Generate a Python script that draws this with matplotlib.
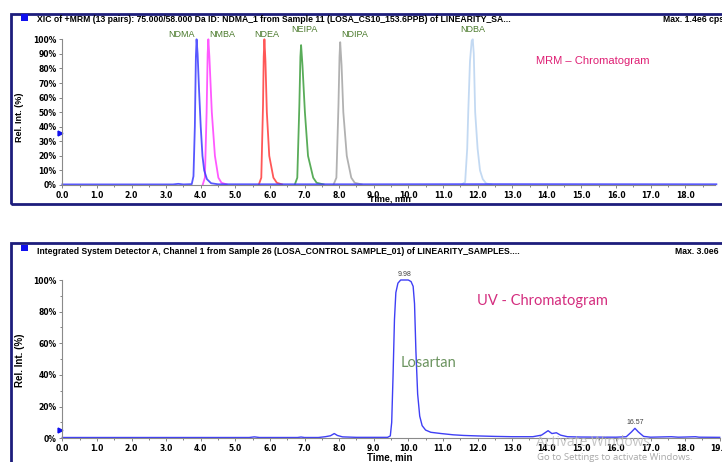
import numpy as np
import matplotlib
matplotlib.use('Agg')
from matplotlib import pyplot as plt
from matplotlib.patches import Rectangle
from matplotlib.ticker import MultipleLocator, FuncFormatter

W, H = 722, 462

# ---- MRM traces (time, rel. intensity %) ----
ndma_t = [0.0, 3.2, 3.35, 3.5, 3.74, 3.79, 3.83, 3.86, 3.88, 3.91, 3.95, 4.00, 4.05, 4.10, 4.18, 4.30, 4.50, 9.0, 12.5, 18.9]
ndma_y = [0.4, 0.4, 0.8, 0.4, 0.6, 6, 40, 88, 100, 90, 66, 40, 20, 10, 4, 1.2, 0.5, 0.5, 0.6, 0.5]
nmba_t = [4.06, 4.12, 4.17, 4.20, 4.22, 4.25, 4.32, 4.41, 4.51, 4.60, 4.75]
nmba_y = [0.4, 5, 50, 90, 100, 88, 50, 20, 5, 1.5, 0.4]
ndea_t = [5.68, 5.75, 5.80, 5.82, 5.84, 5.87, 5.91, 5.98, 6.10, 6.20, 6.35]
ndea_y = [0.4, 5, 55, 88, 100, 85, 50, 20, 5, 1.5, 0.4]
neipa_t = [6.72, 6.79, 6.85, 6.88, 6.90, 6.94, 7.01, 7.10, 7.25, 7.35, 7.55]
neipa_y = [0.4, 5, 55, 88, 96, 82, 50, 20, 5, 1.5, 0.4]
ndipa_t = [7.84, 7.92, 7.98, 8.01, 8.03, 8.07, 8.12, 8.22, 8.35, 8.45, 8.65]
ndipa_y = [0.4, 5, 55, 88, 98, 82, 50, 20, 5, 1.5, 0.4]
ndba_t = [11.55, 11.64, 11.70, 11.73, 11.78, 11.83, 11.86, 11.89, 11.93, 12.00, 12.07, 12.15, 12.25, 12.40]
ndba_y = [0.4, 2, 25, 50, 85, 99, 100, 90, 50, 25, 10, 4, 1, 0.4]

mrm_names = ['NDMA', 'NMBA', 'NDEA', 'NEIPA', 'NDIPA', 'NDBA']
mrm_colors = ['#3a3aff', '#ff3cff', '#ff3a3a', '#3c9e3c', '#a4a4a4', '#b9d3f0']
mrm_label_t = [3.43, 4.62, 5.92, 7.01, 8.45, 11.87]
mrm_label_y = [103.6, 103.6, 103.6, 106.4, 103.6, 106.4]

# ---- UV trace ----
uv_t = [0.0, 5.40, 5.55, 5.70, 6.80, 6.90, 7.00, 7.40, 7.60, 7.75, 7.86, 7.95, 8.10, 8.50,
        9.00, 9.40, 9.48, 9.52, 9.56, 9.60, 9.64, 9.70, 9.78, 10.00, 10.08, 10.14, 10.18,
        10.22, 10.27, 10.33, 10.40, 10.50, 10.65, 10.95, 11.30, 11.60, 12.00, 12.50, 13.00,
        13.60, 13.85, 14.04, 14.15, 14.28, 14.40, 14.60, 15.00, 16.00, 16.30, 16.45, 16.55,
        16.65, 16.80, 17.00, 17.40, 17.60, 17.80, 18.00, 18.30, 18.40, 19.00]
uv_y = [0.5, 0.5, 0.9, 0.5, 0.5, 0.8, 0.5, 0.5, 1.0, 1.6, 3.0, 1.8, 0.9, 0.6,
        0.6, 0.6, 1.5, 10, 40, 75, 92, 98, 100, 100, 99, 96, 85,
        55, 28, 14, 8, 5.2, 3.8, 3.0, 2.2, 1.8, 1.5, 1.2, 1.0,
        1.0, 2.0, 4.8, 3.0, 3.5, 2.0, 1.0, 0.8, 0.7, 1.0, 4.0, 6.3,
        4.0, 1.2, 0.7, 0.9, 1.0, 0.7, 0.8, 1.0, 0.7, 0.6]
uv_peak_t = [9.88, 16.55]
uv_peak_y = [100, 6.3]
uv_peak_lbl = ['9.98', '16.57']

top_header = 'XIC of +MRM (13 pairs): 75.000/58.000 Da ID: NDMA_1 from Sample 11 (LOSA_CS10_153.6PPB) of LINEARITY_SA...'
bot_header = 'Integrated System Detector A, Channel 1 from Sample 26 (LOSA_CONTROL SAMPLE_01) of LINEARITY_SAMPLES....'

plt.rcParams['font.family'] = ['DejaVu Sans']
plt.rcParams['font.weight'] = 'bold'

fig = plt.figure(figsize=(W / 100, H / 100), dpi=100)
fig.patch.set_facecolor('white')


def box(x0, y0, x1, y1):
    # pixel rectangle (top-left origin) -> figure fraction
    return [x0 / W, 1 - y1 / H, (x1 - x0) / W, (y1 - y0) / H]


def ftext(x, y, s, **kw):
    fig.text(x / W, 1 - y / H, s, **kw)


narrow = ['Liberation Sans Narrow', 'Liberation Sans', 'DejaVu Sans']
navy = '#1d1d7c'

# panel frames
for y0, y1 in [(13.5, 203.5), (243.5, 480)]:
    fig.patches.append(Rectangle((11 / W, 1 - y1 / H), (740 - 11) / W, (y1 - y0) / H,
                                 transform=fig.transFigure, fill=False, ec=navy, lw=2))
    fig.patches.append(Rectangle((21 / W, 1 - (y0 + 7) / H), 7 / W, 6 / H,
                                 transform=fig.transFigure, fc='#1010ee', ec='none'))

ftext(37, 19, top_header, family=narrow, fontsize=6.25, va='center', ha='left')
ftext(663, 19, 'Max. 1.4e6 cps', family=narrow, fontsize=6.25, va='center', ha='left')
ftext(37, 251, bot_header, family=narrow, fontsize=6.25, va='center', ha='left')
ftext(675, 251, 'Max. 3.0e6', family=narrow, fontsize=6.25, va='center', ha='left')


def style_axes(ax, ystep, yminor):
    for s in ['top', 'right']:
        ax.spines[s].set_visible(False)
    for s in ['left', 'bottom']:
        ax.spines[s].set_color('#8a8a8a')
        ax.spines[s].set_linewidth(0.8)
    ax.xaxis.set_major_locator(MultipleLocator(1.0))
    ax.xaxis.set_minor_locator(MultipleLocator(0.5))
    ax.xaxis.set_major_formatter(FuncFormatter(lambda v, p: f'{v:.1f}'))
    ax.yaxis.set_major_locator(MultipleLocator(ystep))
    ax.yaxis.set_minor_locator(MultipleLocator(yminor))
    ax.yaxis.set_major_formatter(FuncFormatter(lambda v, p: f'{v:.0f}%'))
    ax.tick_params(which='both', labelsize=5.5, color='#707070', width=0.6, pad=1.5)
    ax.tick_params(which='major', length=2.5)
    ax.tick_params(which='minor', length=1.5)
    ax.set_ylim(0, 100)


# ---- top (MRM) ----
ax1 = fig.add_axes(box(62.3, 39.3, 715, 185))
style_axes(ax1, 10, 10)
ax1.set_xlim(0, 18.86)
traces = [(ndma_t, ndma_y), (nmba_t, nmba_y), (ndea_t, ndea_y),
          (neipa_t, neipa_y), (ndipa_t, ndipa_y), (ndba_t, ndba_y)]
order = [5, 4, 3, 2, 1, 0]
for i in order:
    t, y = traces[i]
    ax1.plot(t, y, color=mrm_colors[i], lw=1.3, alpha=0.85, clip_on=False)
for name, lt, ly in zip(mrm_names, mrm_label_t, mrm_label_y):
    ax1.text(lt, ly, name, color='#4b7a2c', fontsize=6.5, fontweight='normal',
             family=['Liberation Sans'], ha='center', va='center', clip_on=False)
ax1.plot([-0.08], [36], marker='>', color='#1010ee', ms=3.5, clip_on=False)
ftext(593, 61, 'MRM \u2013 Chromatogram', color='#df1f74', fontsize=8, fontweight='normal',
      family=['Liberation Sans'], ha='center', va='center')
ftext(20, 117, 'Rel. Int. (%)', family=narrow, fontsize=6.5, rotation=90, ha='center', va='center')
ftext(390, 199, 'Time, min', family=['Liberation Sans'], fontsize=6.5, ha='center', va='center')

# ---- bottom (UV) ----
ax2 = fig.add_axes(box(62.3, 280, 719.7, 438.3))
style_axes(ax2, 20, 10)
ax2.set_xlim(0, 19.0)
ax2.plot(uv_t, uv_y, color='#3f3ff5', lw=1.0, clip_on=False)
for pt, py, pl in zip(uv_peak_t, uv_peak_y, uv_peak_lbl):
    ax2.annotate(pl, (pt, py), xytext=(0, 4), textcoords='offset points', ha='center',
                 va='center', fontsize=5, fontweight='normal', color='#404040',
                 family=['Liberation Sans'])
ax2.plot([-0.08], [5], marker='>', color='#1010ee', ms=3.5, clip_on=False)
ftext(542, 301, 'UV - Chromatogram', color='#d42d7f', fontsize=10.5, fontweight='normal',
      family=['Lato', 'DejaVu Sans'], ha='center', va='center')
ftext(429, 363, 'Losartan', color='#6c9460', fontsize=10.5, fontweight='normal',
      family=['Lato', 'DejaVu Sans'], ha='center', va='center')
ftext(20, 360, 'Rel. Int. (%)', family=['Liberation Sans'], fontsize=7, rotation=90,
      ha='center', va='center')
ftext(390, 457, 'Time, min', family=['Liberation Sans'], fontsize=7, ha='center', va='center')

# screen watermark visible in the reference
ftext(536, 442, 'Activate Windows', color='#b8b8b8', fontsize=10, fontweight='normal',
      family=['Open Sans'], ha='left', va='center', alpha=0.8)
ftext(537, 457, 'Go to Settings to activate Windows.', color='#a8a8a8', fontsize=6.8,
      fontweight='normal', family=['Open Sans'], ha='left', va='center')

fig.savefig('out.png', dpi=100, facecolor='white')
